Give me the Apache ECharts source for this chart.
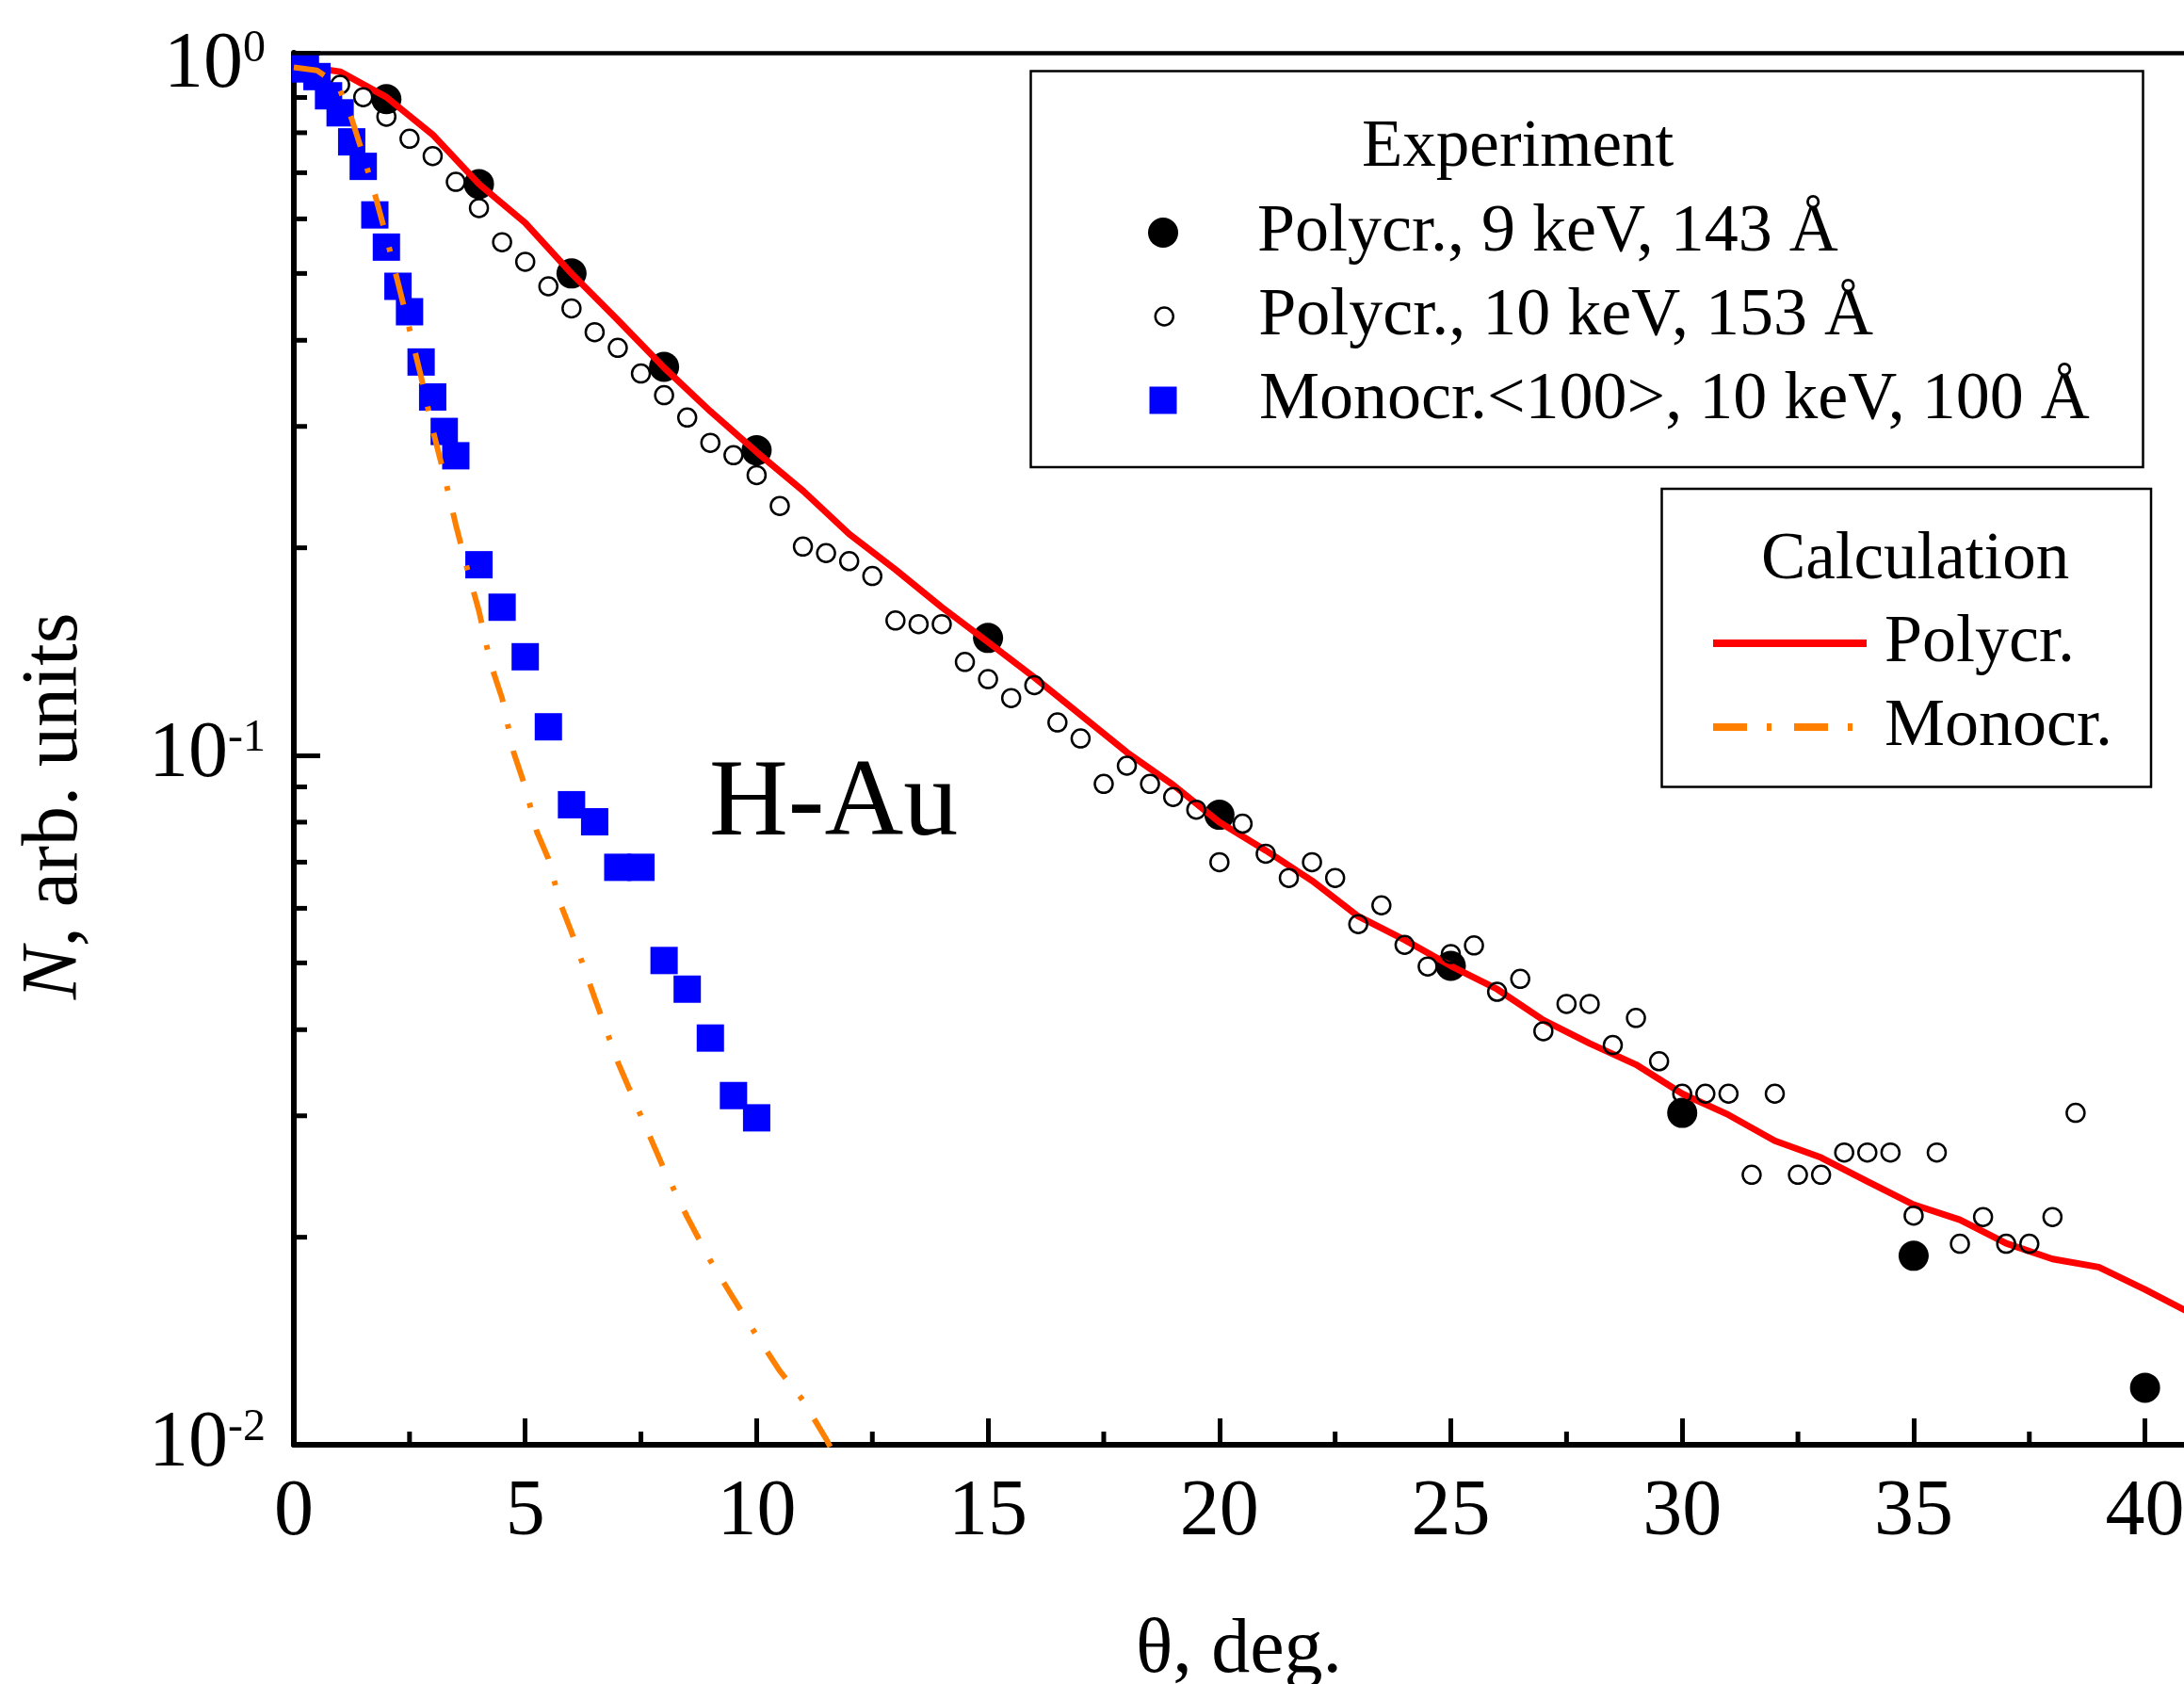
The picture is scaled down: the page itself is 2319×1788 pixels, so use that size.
<!DOCTYPE html>
<html><head><meta charset="utf-8">
<script src="https://cdn.jsdelivr.net/npm/echarts@6/dist/echarts.min.js"></script>
<style>html,body{margin:0;padding:0;background:#fff}#c{width:2319px;height:1788px}</style>
</head><body><div id="c"></div>
<script>
// ---------- data ----------
const polyc9X = [2, 4, 6, 8, 10, 15, 20, 25, 30, 35, 40];
const polyc9Y = [0.895, 0.674, 0.50, 0.366, 0.277, 0.148, 0.082, 0.0495, 0.0303, 0.0188, 0.0121];

const polyc10X = [1.0,1.5,2.0,2.5,3.0,3.5,4.0,4.5,5.0,5.5,6.0,6.5,7.0,7.5,8.0,8.5,9.0,9.5,10.0,10.5,
  11.0,11.5,12.0,12.5,13.0,13.5,14.0,14.5,15.0,15.5,16.0,16.5,17.0,17.5,18.0,18.5,19.0,19.5,20.0,20.5,
  21.0,21.5,22.0,22.5,23.0,23.5,24.0,24.5,25.0,25.5,26.0,26.5,27.0,27.5,28.0,28.5,29.0,29.5,30.0,30.5,
  31.0,31.5,32.0,32.5,33.0,33.5,34.0,34.5,35.0,35.5,36.0,36.5,37.0,37.5,38.0,38.5];
const polyc10Y = [0.939,0.901,0.844,0.784,0.740,0.679,0.622,0.555,0.520,0.479,0.445,0.411,0.390,0.358,0.333,0.309,0.284,0.2725,0.255,0.230,
  0.2008,0.1965,0.1913,0.1820,0.1569,0.155,0.155,0.1366,0.129,0.1211,0.1264,0.1116,0.1058,0.0909,0.0966,0.0909,0.087,0.0834,0.070,0.0796,
  0.072,0.0664,0.070,0.0664,0.0569,0.0606,0.0531,0.0494,0.0515,0.0530,0.0454,0.0474,0.0398,0.0436,0.0436,0.038,0.0416,0.036,0.0323,0.0323,
  0.0323,0.02464,0.0323,0.02464,0.02464,0.02654,0.02654,0.02654,0.0215,0.02654,0.01957,0.0214,0.01957,0.01957,0.0214,0.0303];

const monoX = [0.25,0.5,0.75,1.0,1.25,1.5,1.75,2.0,2.25,2.5,2.75,3.0,3.25,3.5,4.0,4.5,5.0,5.5,6.0,6.5,7.0,7.5,8.0,8.5,9.0,9.5,10.0];
const monoY = [0.99,0.965,0.905,0.855,0.776,0.715,0.608,0.546,0.479,0.44,0.372,0.331,0.295,0.272,0.189,0.164,0.139,0.110,0.0848,0.0801,0.0688,0.0688,0.0504,0.0458,0.0389,0.0321,0.0298];

const calcPolyX = [0,0.5,1,2,3,4,5,6,7,8,9,10,11,12,13,14,15,16,17,18,19,20,21,22,23,24,25,26,27,28,29,30,31,32,33,34,35,36,37,38,39,40,41];
const calcPolyY = [1.0,0.992,0.981,0.901,0.795,0.674,0.592,0.50,0.428,0.365,0.3155,0.2754,0.242,0.2094,0.186,0.164,0.146,0.1297,0.1145,0.101,0.0906,0.080,
  0.0728,0.0658,0.0584,0.0540,0.0495,0.0458,0.0413,0.0382,0.0356,0.0323,0.0301,0.0276,0.0261,0.0241,0.0223,0.0212,0.0196,0.0186,0.0181,0.0168,0.0155];

const calcMonoX = [0,0.5,0.75,1.0,1.25,1.5,1.75,2.0,2.25,2.5,2.75,3.0,3.25,3.5,3.75,4.0,4.25,4.5,4.75,5.0,5.25,5.5,5.75,6.0,6.5,7.0,7.5,8.0,8.5,9.0,9.5,10.0,10.5,11.0,11.5,11.6];
const calcMonoY = [0.995,0.985,0.96,0.922,0.838,0.742,0.652,0.565,0.485,0.415,0.354,0.297,0.255,0.216,0.186,0.162,0.136,0.121,0.101,0.090,0.0775,0.0708,0.0612,0.0554,0.0445,0.0359,0.0300,0.0251,0.0214,0.0185,0.0163,0.0144,0.0128,0.0116,0.0102,0.0099];

const xTickLabels = [0, 5, 10, 15, 20, 25, 30, 35, 40];
const xMinorTickValues = [2.5, 7.5, 12.5, 17.5, 22.5, 27.5, 32.5, 37.5];
const yMinorTickValues = [0.02,0.03,0.04,0.05,0.06,0.07,0.08,0.09,0.2,0.3,0.4,0.5,0.6,0.7,0.8,0.9];

const S1 = 'Polycr., 9 keV, 143 Å';
const S2 = 'Polycr., 10 keV, 153 Å';
const S3 = 'Monocr.<100>, 10 keV, 100 Å';
const S4 = 'Polycr.';
const S5 = 'Monocr.';

// ---------- chart ----------
const FONT = "'Liberation Serif', 'DejaVu Serif', serif";
const X_MAX = 40.842;
const pair = (xs, ys) => xs.map((x, i) => [x, ys[i]]);
const chart = echarts.init(document.getElementById('c'), null, {renderer: 'canvas'});
const legendText = {fontFamily: FONT, fontSize: 72, lineHeight: 72, color: '#000'};
const ORANGE_DASH = [34, 24, 5, 24];

const option = {
  backgroundColor: '#fff',
  animation: false,
  textStyle: {fontFamily: FONT},
  grid: {left: 312, right: 0, top: 56, bottom: 254, containLabel: false, outerBoundsMode: 'none'},
  title: [
    {text: 'Experiment', left: 1446, top: 122, padding: 0,
     textStyle: {fontFamily: FONT, fontSize: 71, lineHeight: 71, fontWeight: 'normal', color: '#000'}},
    {text: 'Calculation', left: 1870, top: 560, padding: 0,
     textStyle: {fontFamily: FONT, fontSize: 71, lineHeight: 71, fontWeight: 'normal', color: '#000'}},
    {text: 'H-Au', left: 753, top: 798, padding: 0,
     textStyle: {fontFamily: FONT, fontSize: 116, lineHeight: 116, fontWeight: 'normal', color: '#000'}}
  ],
  graphic: [
    {type: 'rect', z: 0, shape: {x: 1094.5, y: 75.5, width: 1181, height: 420.5},
     style: {fill: 'none', stroke: '#000', lineWidth: 2.5}},
    {type: 'rect', z: 0, shape: {x: 1764.5, y: 519, width: 519.5, height: 316.5},
     style: {fill: 'none', stroke: '#000', lineWidth: 2.5}}
  ],
  legend: [
    {data: [{name: S1, itemStyle: {color: '#000', borderWidth: 0, opacity: 1}}], left: 1235 - 16, top: 211, padding: 0,
     itemWidth: 190, itemHeight: 32, selectedMode: false, textStyle: legendText},
    {data: [{name: S2, itemStyle: {color: 'rgba(0,0,0,0)', borderColor: '#000', borderWidth: 2.5, opacity: 1}}], left: 1235 - 9.5, top: 300, padding: 0,
     itemWidth: 190, itemHeight: 19, selectedMode: false, textStyle: legendText},
    {data: [{name: S3, icon: 'rect', itemStyle: {color: '#0000ff', borderWidth: 0, opacity: 1}}], left: 1235 - 14.5, top: 389, padding: 0,
     itemWidth: 29, itemHeight: 29, selectedMode: false,
     textStyle: Object.assign({}, legendText, {padding: [0, 0, 0, 82.5]})},
    {data: [
       {name: S4, itemStyle: {color: 'rgba(0,0,0,0)', borderWidth: 0}, lineStyle: {color: '#ff0000', width: 8}},
       {name: S5, itemStyle: {color: 'rgba(0,0,0,0)', borderWidth: 0}, lineStyle: {color: '#ff8000', width: 8, type: [36, 21, 5, 24], cap: 'butt'}}
     ],
     orient: 'vertical', left: 1815, top: 647, padding: 0, itemGap: 17,
     itemWidth: 163, itemHeight: 20, selectedMode: false,
     textStyle: Object.assign({}, legendText, {padding: [0, 0, 0, 14]})}
  ],
  xAxis: [{
    type: 'value', min: 0, max: X_MAX, interval: 5, position: 'bottom',
    axisLine: {show: true, onZero: false, lineStyle: {color: '#000', width: 6}},
    axisTick: {show: true, inside: true, length: 28, customValues: xTickLabels, lineStyle: {color: '#000', width: 5}},
    minorTick: {show: false},
    splitLine: {show: false},
    axisLabel: {margin: 31, fontSize: 84, lineHeight: 84, fontFamily: FONT, color: '#000',
      customValues: xTickLabels,
      formatter: v => xTickLabels.indexOf(v) >= 0 ? String(v) : ''},
    name: 'θ, deg.', nameLocation: 'middle', nameGap: 178,
    nameTextStyle: {fontSize: 82, lineHeight: 82, fontFamily: FONT, color: '#000'}
  }, {
    type: 'value', min: 0, max: X_MAX, position: 'top',
    axisLine: {show: true, onZero: false, lineStyle: {color: '#000', width: 4.5}},
    axisTick: {show: false}, axisLabel: {show: false}, splitLine: {show: false}
  }],
  yAxis: {
    type: 'log', logBase: 10, min: 0.01, max: 1.045,
    axisLine: {show: true, onZero: false, lineStyle: {color: '#000', width: 6}},
    axisTick: {show: true, inside: true, length: 28, lineStyle: {color: '#000', width: 5}},
    minorTick: {show: false},
    splitLine: {show: false},
    axisLabel: {
      margin: 30,
      formatter: v => {
        const e = Math.log10(v);
        if (Math.abs(e - Math.round(e)) > 1e-6) return '';
        return '{b|10}{s|' + Math.round(e) + '}';
      },
      rich: {
        b: {fontSize: 84, lineHeight: 84, fontFamily: FONT, color: '#000'},
        s: {fontSize: 48, lineHeight: 44, fontFamily: FONT, color: '#000', verticalAlign: 'top'}
      }
    },
    name: '{i|N}, arb. units', nameLocation: 'middle', nameGap: 211, nameRotate: 90,
    nameTextStyle: {fontSize: 84, lineHeight: 84, fontFamily: FONT, color: '#000', padding: [0, 122, 0, 0],
      rich: {i: {fontSize: 84, lineHeight: 84, fontFamily: FONT, color: '#000', fontStyle: 'italic'}}}
  },
  series: [
    {type: 'custom', name: 'yMinorTicks', silent: true, clip: false, z: 1,
     data: yMinorTickValues.map(v => [0, v]),
     renderItem: (params, api) => {
       const p = api.coord([api.value(0), api.value(1)]);
       return {type: 'line', shape: {x1: p[0], y1: p[1], x2: p[0] + 14, y2: p[1]},
               style: {stroke: '#000', lineWidth: 5}};
     }},
    {type: 'custom', name: 'xMinorTicks', silent: true, clip: false, z: 1,
     data: xMinorTickValues.map(v => [v, 0.01]),
     renderItem: (params, api) => {
       const p = api.coord([api.value(0), api.value(1)]);
       return {type: 'line', shape: {x1: p[0], y1: p[1], x2: p[0], y2: p[1] - 14},
               style: {stroke: '#000', lineWidth: 5}};
     }},
    {type: 'scatter', name: S1, data: pair(polyc9X, polyc9Y), symbol: 'circle', symbolSize: 32,
     itemStyle: {color: '#000', opacity: 1}, z: 2},
    {type: 'line', name: S4, data: pair(calcPolyX, calcPolyY), showSymbol: false, symbol: 'none',
     lineStyle: {color: '#ff0000', width: 7}, itemStyle: {color: '#ff0000'}, z: 3},
    {type: 'scatter', name: S2, data: pair(polyc10X, polyc10Y), symbol: 'circle', symbolSize: 19,
     itemStyle: {color: 'rgba(0,0,0,0)', borderColor: '#000', borderWidth: 2.5, opacity: 1}, z: 4},
    {type: 'scatter', name: S3, data: pair(monoX, monoY), symbol: 'rect', symbolSize: 29,
     itemStyle: {color: '#0000ff', opacity: 1}, z: 5},
    {type: 'line', name: S5, data: pair(calcMonoX, calcMonoY), showSymbol: false, symbol: 'none',
     lineStyle: {color: '#ff8000', width: 6, type: ORANGE_DASH, cap: 'butt'}, itemStyle: {color: '#ff8000'}, z: 6}
  ]
};
chart.setOption(option);
</script>
</body></html>
